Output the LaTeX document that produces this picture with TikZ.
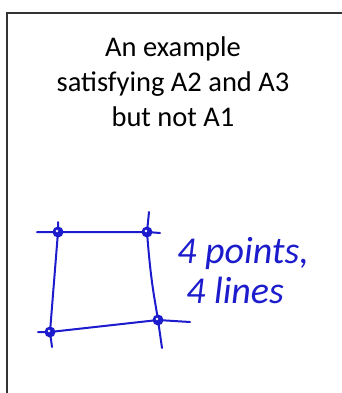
\documentclass[tikz,border=0pt]{standalone}
\usepackage{fontspec}
\setmainfont{Carlito}
\definecolor{pen}{RGB}{28,28,205}
\begin{document}
\begin{tikzpicture}[x=1pt,y=-1pt,
  pen/.style={draw=pen,line width=2pt,line cap=round},
  dot/.style={circle,fill=pen,inner sep=0pt,minimum size=11pt},
  hand/.style={text=pen,font=\fontsize{38}{40}\selectfont\itshape,anchor=base west,inner sep=0pt}]
\useasboundingbox (0,0) rectangle (341,393);
% frame
\coordinate (fb) at (7,394);
\coordinate (ftl) at (7,13);
\coordinate (fr) at (342,13);
\draw[line width=1.4pt,black!80] (fb) -- (ftl) -- (fr);
% title
\node[align=center,font=\fontsize{28.5}{35}\selectfont,inner sep=0pt] (title) at (173,82)
  {An example\\satisfying A2 and A3\\but not A1};
% points
\node[dot] (tl) at (58,232) {};
\node[dot] (tr) at (147,232) {};
\node[dot] (bl) at (50,332) {};
\node[dot] (br) at (158,320) {};
% line ends
\coordinate (t0) at (37,232);
\coordinate (t1) at (160,233);
\coordinate (l0) at (58,222);
\coordinate (l1) at (52,347);
\coordinate (r0) at (149,212);
\coordinate (r1) at (162,348);
\coordinate (b0) at (38,332);
\coordinate (b1) at (190,322);
\draw[pen] (t0) -- (tl.center) -- (tr.center) -- (t1);
\draw[pen] (l0) -- (tl.center) -- (bl.center) -- (l1);
\draw[pen] (r0) -- (tr.center) .. controls (151,285) and (155,300) .. (br.center) -- (r1);
\draw[pen] (b0) -- (bl.center) -- (br.center) -- (b1);
% highlights
\foreach \n in {tl,tr,bl,br} \fill[white] ([shift={(-1,-1)}]\n.center) circle (1.3pt);
% handwritten text
\node[hand] (h1) at (177,263) {4 points,};
\node[hand] (h2) at (186,303) {4 lines};
\end{tikzpicture}
\end{document}
